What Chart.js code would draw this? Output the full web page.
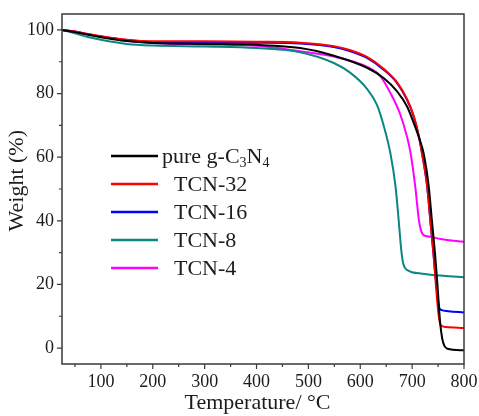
<!DOCTYPE html>
<html>
<head>
<meta charset="utf-8">
<script src="https://cdn.jsdelivr.net/npm/chart.js@4.4.1/dist/chart.umd.min.js"></script>
<style>
  html, body { margin: 0; padding: 0; background: #fff; }
  canvas { display: block; }
</style>
</head>
<body>
<canvas id="tga" width="479" height="416"></canvas>
<script>
// ---------- data ----------
const seriesNames = ['pure g-C₃N₄', 'TCN-32', 'TCN-16', 'TCN-8', 'TCN-4'];
const seriesColors = ['#000000', '#ff0000', '#0000ff', '#0b8782', '#ff00ff'];

const tempPure = [25, 50, 75, 100, 150, 200, 300, 400, 484, 549, 613, 645, 671, 690, 703, 713, 722, 732, 738, 744, 749, 754, 758, 762, 768, 800];
const weightPure = [100, 99.3, 98.5, 97.7, 96.5, 95.9, 95.6, 95.3, 94.3, 91.9, 88.1, 84.9, 80.7, 76.0, 70.8, 66.3, 61.3, 50.8, 40.3, 29.9, 19.5, 8.0, 3.0, 0.8, -0.2, -0.7];

const temp32 = [25, 50, 75, 100, 150, 200, 300, 400, 484, 549, 581, 613, 645, 671, 690, 703, 713, 719, 729, 735, 741, 746, 751, 755, 765, 800];
const weight32 = [100, 99.5, 98.7, 98.0, 96.9, 96.4, 96.4, 96.3, 96.0, 94.9, 93.6, 91.5, 87.8, 83.5, 78.3, 73.0, 66.6, 61.3, 50.8, 40.3, 29.9, 19.4, 10.5, 7.2, 6.6, 6.3];

const temp16 = [25, 50, 75, 100, 150, 200, 300, 400, 484, 549, 581, 613, 645, 671, 690, 703, 713, 719, 729, 735, 741, 747, 752, 756, 770, 800];
const weight16 = [100, 99.4, 98.6, 97.9, 96.8, 96.2, 96.1, 96.0, 95.7, 94.6, 93.3, 91.2, 87.5, 83.3, 78.1, 72.8, 66.5, 61.3, 50.8, 40.3, 29.9, 19.4, 12.8, 12.0, 11.6, 11.2];

const temp8 = [25, 50, 75, 100, 150, 200, 300, 400, 484, 549, 581, 613, 632, 645, 658, 668, 674, 679, 683, 690, 720, 760, 800];
const weight8 = [100, 98.9, 97.8, 96.9, 95.6, 95.1, 94.8, 94.3, 93.0, 89.6, 86.5, 81.5, 76.5, 70.0, 61.3, 50.8, 40.3, 30.9, 26.5, 24.6, 23.4, 22.7, 22.3];

const temp4 = [25, 50, 75, 100, 150, 200, 300, 400, 484, 549, 613, 639, 658, 677, 690, 697, 706, 713, 717, 722, 735, 755, 800];
const weight4 = [100, 99.5, 98.7, 97.9, 96.6, 95.9, 95.4, 95.0, 93.3, 91.6, 88.4, 85.4, 80.2, 73.5, 66.5, 61.3, 50.8, 40.3, 37.0, 35.5, 35.0, 34.3, 33.4];

const xTicks = [100, 200, 300, 400, 500, 600, 700, 800];
const xMinorTicks = [50, 150, 250, 350, 450, 550, 650, 750];
const yTicks = [0, 20, 40, 60, 80, 100];
const yMinorTicks = [10, 30, 50, 70, 90];

const SERIF = '"Liberation Serif", "Times New Roman", serif';
const INK = '#1c1c1c';
const FRAME = '#3a3a3a';

const toPoints = (ts, ws) => ts.map((t, i) => ({ x: t, y: ws[i] }));
const seriesPoints = [
  toPoints(tempPure, weightPure),
  toPoints(temp32, weight32),
  toPoints(temp16, weight16),
  toPoints(temp8, weight8),
  toPoints(temp4, weight4),
];

// ---------- text with unicode subscripts drawn smaller ----------
const SUBS = '₀₁₂₃₄₅₆₇₈₉';
function drawRich(ctx, text, x, y, size) {
  let cx = x;
  for (const ch of text) {
    const k = SUBS.indexOf(ch);
    if (k >= 0) {
      ctx.font = `${Math.round(size * 0.62)}px ${SERIF}`;
      ctx.fillText(String(k), cx, y + size * 0.28);
      cx += ctx.measureText(String(k)).width;
    } else {
      ctx.font = `${size}px ${SERIF}`;
      ctx.fillText(ch, cx, y);
      cx += ctx.measureText(ch).width;
    }
  }
}

// ---------- frame, tick marks, inset legend ----------
const decor = {
  id: 'decor',
  afterDraw(chart) {
    const { ctx, chartArea: a, scales: { x, y } } = chart;
    ctx.save();
    ctx.strokeStyle = FRAME;
    ctx.lineWidth = 1.5;
    ctx.strokeRect(a.left, a.top, a.right - a.left, a.bottom - a.top);

    ctx.lineWidth = 1.2;
    ctx.beginPath();
    for (const v of xTicks) { const px = x.getPixelForValue(v); ctx.moveTo(px, a.bottom); ctx.lineTo(px, a.bottom + 5); }
    for (const v of xMinorTicks) { const px = x.getPixelForValue(v); ctx.moveTo(px, a.bottom); ctx.lineTo(px, a.bottom + 3); }
    for (const v of yTicks) { const py = y.getPixelForValue(v); ctx.moveTo(a.left, py); ctx.lineTo(a.left - 5, py); }
    for (const v of yMinorTicks) { const py = y.getPixelForValue(v); ctx.moveTo(a.left, py); ctx.lineTo(a.left - 3, py); }
    ctx.stroke();

    // legend inside the plot
    ctx.textBaseline = 'middle';
    ctx.fillStyle = INK;
    seriesNames.forEach((name, i) => {
      const ry = 157 + i * 28;
      ctx.strokeStyle = seriesColors[i];
      ctx.lineWidth = 2.5;
      ctx.beginPath();
      ctx.moveTo(111, ry - 1);
      ctx.lineTo(158, ry - 1);
      ctx.stroke();
      drawRich(ctx, name, i === 0 ? 162 : 174, ry, 22);
    });
    ctx.restore();
  }
};

const whiteBg = {
  id: 'whiteBg',
  beforeDraw(chart) {
    const { ctx, width, height } = chart;
    ctx.save();
    ctx.fillStyle = '#fff';
    ctx.fillRect(0, 0, width, height);
    ctx.restore();
  }
};

new Chart(document.getElementById('tga'), {
  type: 'line',
  data: {
    datasets: seriesNames.map((name, i) => ({
      label: name,
      data: seriesPoints[i],
      borderColor: seriesColors[i],
      backgroundColor: seriesColors[i],
      borderWidth: 2,
      pointRadius: 0,
      fill: false,
      cubicInterpolationMode: 'monotone',
    })),
  },
  options: {
    responsive: false,
    animation: false,
    events: [],
    layout: { padding: { left: 0, right: 15, top: 14, bottom: 0 } },
    plugins: { legend: { display: false }, tooltip: { enabled: false } },
    scales: {
      x: {
        type: 'linear',
        min: 25,
        max: 800,
        afterBuildTicks: s => { s.ticks = xTicks.map(v => ({ value: v })); },
        afterFit: s => { s.height = 52; s.paddingLeft = 0; s.paddingRight = 0; },
        grid: { display: false, drawTicks: false },
        border: { display: false },
        ticks: { font: { family: SERIF, size: 18 }, color: INK, padding: 7, maxRotation: 0, autoSkip: false },
        title: {
          display: true,
          text: 'Temperature/ °C  ',
          font: { family: SERIF, size: 22 },
          color: INK,
          padding: { top: 0, bottom: 0 },
        },
      },
      y: {
        type: 'linear',
        min: -5,
        max: 105,
        afterBuildTicks: s => { s.ticks = yTicks.map(v => ({ value: v })); },
        afterFit: s => { s.width = 62; s.paddingTop = 0; s.paddingBottom = 0; },
        grid: { display: false, drawTicks: false },
        border: { display: false },
        ticks: { font: { family: SERIF, size: 18 }, color: INK, padding: 8 },
        title: {
          display: true,
          text: '   Weight (%)',
          font: { family: SERIF, size: 22 },
          color: INK,
          padding: { top: 4, bottom: 0 },
        },
      },
    },
  },
  plugins: [whiteBg, decor],
});
</script>
</body>
</html>
